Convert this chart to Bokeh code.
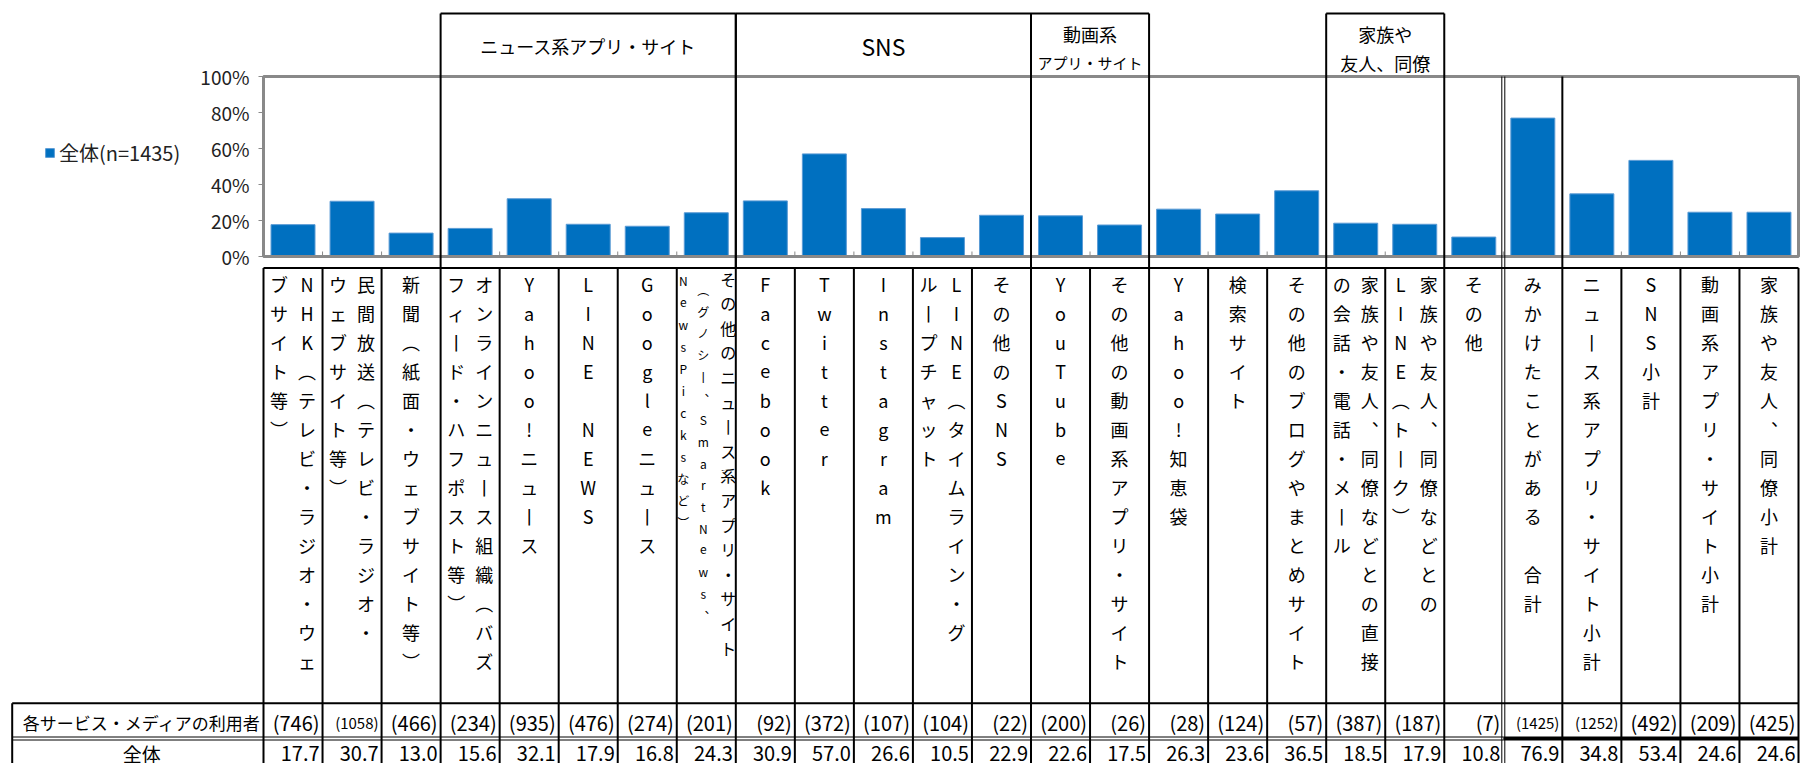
from bokeh.plotting import figure
from bokeh.models import ColumnDataSource, Legend, LegendItem, Range1d
from bokeh.core.properties import value
from bokeh.embed import file_html
from bokeh.resources import INLINE

# ---------------- data ----------------
categories = [
    "NHK（テレビ・ラジオ・ウェ\nブサイト等）",
    "民間放送（テレビ・ラジオ・\nウェブサイト等）",
    "新聞（紙面・ウェブサイト等）",
    "オンラインニュース組織（バズ\nフィード・ハフポスト等）",
    "Yahoo!ニュース",
    "LINE NEWS",
    "Googleニュース",
    "その他のニュース系アプリ・サイト\n（グノシー、SmartNews、\nNewsPicksなど）",
    "Facebook",
    "Twitter",
    "Instagram",
    "LINE（タイムライン・グ\nループチャット",
    "その他のSNS",
    "YouTube",
    "その他の動画系アプリ・サイト",
    "Yahoo!知恵袋",
    "検索サイト",
    "その他のブログやまとめサイト",
    "家族や友人、同僚などとの直接\nの会話・電話・メール",
    "家族や友人、同僚などとの\nLINE（トーク）",
    "その他",
    "みかけたことがある　合計",
    "ニュース系アプリ・サイト小計",
    "SNS小計",
    "動画系アプリ・サイト小計",
    "家族や友人、同僚小計",
]
values = [17.7, 30.7, 13.0, 15.6, 32.1, 17.9, 16.8, 24.3, 30.9, 57.0, 26.6,
          10.5, 22.9, 22.6, 17.5, 26.3, 23.6, 36.5, 18.5, 17.9, 10.8,
          76.9, 34.8, 53.4, 24.6, 24.6]
n_users = [746, 1058, 466, 234, 935, 476, 274, 201, 92, 372, 107, 104, 22,
           200, 26, 28, 124, 57, 387, 187, 7, 1425, 1252, 492, 209, 425]
group_names = ["ニュース系アプリ・サイト", "SNS", "動画系\nアプリ・サイト", "家族や\n友人、同僚"]
group_spans = [(3, 8), (8, 13), (13, 15), (18, 20)]
summary_start = 21
subtotal_start = 22
y_ticks = [0, 20, 40, 60, 80, 100]
y_tick_labels = ["0%", "20%", "40%", "60%", "80%", "100%"]
legend_label = "全体(n=1435)"
row_labels = ["各サービス・メディアの利用者", "全体"]

# ---------------- layout (figure pixels) ----------------
W, H = 1800, 763
FONT_NAME = "Noto Sans CJK JP"
FONT = value(FONT_NAME)
BLUE = "#0070C0"
GRAY = "#898989"
ncat = len(categories)
left_px, right_px = 263.0, 1798.0
cw = (right_px - left_px) / ncat
zero_px, top_px = 256.0, 76.0
upx = (zero_px - top_px) / 100.0


def X(px):
    return (px - left_px) / cw


def Y(py):
    return (zero_px - py) / upx


def dx(px):
    return px / cw


def dy(px):
    return px / upx


head_top = 13.0
table_top = 267.5
cells_bottom = 702.7
row_div = 738.0
tab_left = 11.7

p = figure(width=W, height=H, x_range=Range1d(X(0), X(W)), y_range=Range1d(Y(H), Y(0)),
           output_backend="svg", toolbar_location=None, tools="", min_border=0,
           x_axis_location=None, y_axis_location=None, outline_line_color=None,
           background_fill_color="white", border_fill_color="white")
p.grid.visible = False

# bars
src = ColumnDataSource(dict(x=[i + 0.5 for i in range(ncat)], top=values))
bars = p.vbar(x="x", top="top", bottom=0, width=0.745, source=src,
              fill_color=BLUE, line_color="#5B9BD5", line_width=1)

# small x ticks at category boundaries (inside, pointing up)
bx = list(range(1, ncat))
p.segment(x0=bx, x1=bx, y0=[0] * len(bx), y1=[dy(5)] * len(bx), line_color=GRAY, line_width=1)
# y ticks
p.segment(x0=[dx(-5)] * len(y_ticks), x1=[0] * len(y_ticks), y0=y_ticks, y1=y_ticks,
          line_color=GRAY, line_width=1)
# plot border
p.quad(left=0, right=ncat, bottom=0, top=100, fill_color=None, line_color=GRAY, line_width=3)

# y tick labels
p.text(x=[0] * len(y_ticks), y=y_ticks, text=y_tick_labels, x_offset=-14,
       text_align="right", text_baseline="middle", text_font=FONT,
       text_font_size="19px", text_color="#222222")

# ---------------- black frame lines ----------------
segs = {2: [], 1: [], 4: []}
# group header boxes
for (a, b) in group_spans:
    segs[2].append((a, Y(head_top), b, Y(head_top)))
    for g in (a, b):
        segs[2].append((g, Y(head_top), g, Y(table_top)))
# summary separators
for g, off in ((summary_start, -1.5), (summary_start, 1.5)):
    segs[1].append((g + dx(off), 100, g + dx(off), Y(table_top)))
segs[2].append((subtotal_start, 100, subtotal_start, Y(table_top)))
# table top
segs[2].append((0, Y(table_top), ncat, Y(table_top)))
# table column lines
for k in range(ncat + 1):
    if k == summary_start:
        for off in (-1.5, 1.5):
            segs[1].append((k + dx(off), Y(table_top), k + dx(off), Y(H)))
    else:
        segs[2].append((k, Y(table_top), k, Y(H)))
# rows
segs[2].append((X(tab_left), Y(cells_bottom), ncat, Y(cells_bottom)))
segs[2].append((X(tab_left), Y(cells_bottom), X(tab_left), Y(H)))
for off in (-1.5, 1.5):
    segs[1].append((X(tab_left), Y(row_div + off), summary_start, Y(row_div + off)))
segs[4].append((summary_start, Y(row_div), ncat, Y(row_div)))
for lw, ss in segs.items():
    if ss:
        p.segment(x0=[s[0] for s in ss], y0=[s[1] for s in ss],
                  x1=[s[2] for s in ss], y1=[s[3] for s in ss],
                  line_color="black", line_width=lw)

# ---------------- group header texts ----------------
head_style = {0: [(45, "18px")], 1: [(45, "23px")],
              2: [(33, "18px"), (62, "15px")], 3: [(33, "18px"), (62, "18px")]}
for gi, (name, (a, b)) in enumerate(zip(group_names, group_spans)):
    for line, (py, fs) in zip(name.split("\n"), head_style[gi]):
        p.text(x=[(a + b) / 2], y=[Y(py)], text=[line], text_align="center",
               text_baseline="middle", text_font=FONT, text_font_size=fs, text_color="black")

# ---------------- vertical category labels ----------------
VMAP = {"（": "︵", "）": "︶", "ー": "丨", "、": "︑"}
first_char = 283.0
normal_offs = {1: [0], 2: [14, -14]}
special = {7: [(22, "16px", 24.6, 278.0), (-3, "12px", 21.7, 289.0), (-23, "12px", 22.0, 280.0)]}
chars = {}
for i, lab in enumerate(categories):
    cols = lab.split("\n")
    if i in special:
        spec = special[i]
    else:
        spec = [(o, "18px", 29.0, first_char) for o in normal_offs[len(cols)]]
    for (off, fs, step, start), col in zip(spec, cols):
        for k, ch in enumerate(col):
            if ch in " 　":
                continue
            d = chars.setdefault(fs, dict(x=[], y=[], text=[]))
            d["x"].append(i + 0.5 + dx(off))
            d["y"].append(Y(start + k * step))
            d["text"].append(VMAP.get(ch, ch))
for fs, d in chars.items():
    p.text(x="x", y="y", text="text", source=ColumnDataSource(d), text_align="center",
           text_baseline="middle", text_font=FONT, text_font_size=fs, text_color="black")

# ---------------- table rows ----------------
r1_y, r2_y = 721.5, 753.0
for fs, cond in (("20px", lambda n: n < 1000), ("15px", lambda n: n >= 1000)):
    idx = [i for i, n in enumerate(n_users) if cond(n)]
    p.text(x=[i + 1 for i in idx], y=[Y(r1_y)] * len(idx), text=["(%d)" % n_users[i] for i in idx],
           x_offset=-3, text_align="right", text_baseline="middle", text_font=FONT,
           text_font_size=fs, text_color="black")
p.text(x=[i + 1 for i in range(ncat)], y=[Y(r2_y)] * ncat, text=["%.1f" % v for v in values],
       x_offset=-3, text_align="right", text_baseline="middle", text_font=FONT,
       text_font_size="20px", text_color="black")
mid_left = X((tab_left + left_px) / 2 + 4)
for lab, ry, fs in zip(row_labels, (r1_y, r2_y), ("17px", "19px")):
    p.text(x=[mid_left], y=[Y(ry)], text=[lab], text_align="center",
           text_baseline="middle", text_font=FONT, text_font_size=fs, text_color="black")

# ---------------- legend ----------------
legend = Legend(items=[LegendItem(label=legend_label, renderers=[bars])], location=(44, 596),
                glyph_width=11, glyph_height=11, label_standoff=4, padding=0, spacing=0, margin=0,
                border_line_color=None, background_fill_alpha=0, label_height=24,
                label_text_font=FONT_NAME, label_text_font_size="20px", label_text_color="#222222")
p.add_layout(legend)

open("out.html", "w").write(file_html(p, INLINE))
